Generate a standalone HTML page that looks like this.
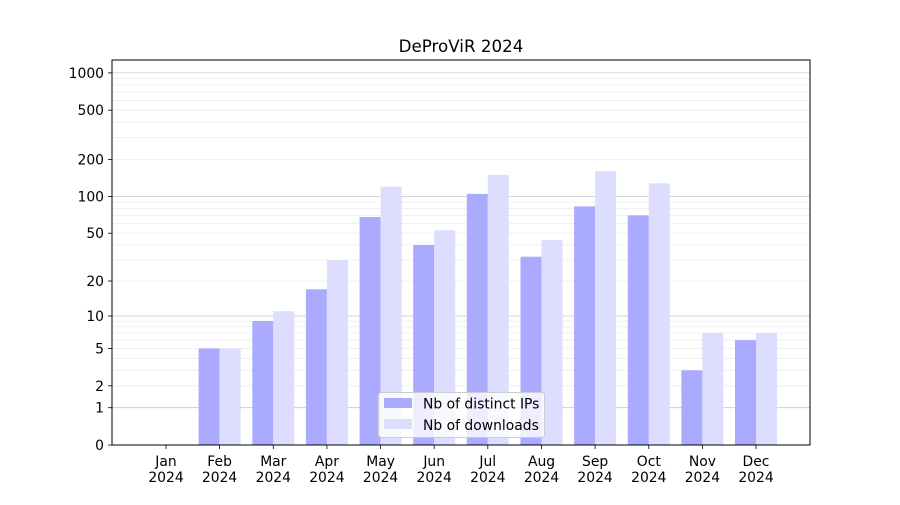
<!DOCTYPE html>
<html><head><meta charset="utf-8"><style>
body{margin:0;background:#fff}
svg text{font-family:"DejaVu Sans","Liberation Sans",sans-serif;font-size:13.9px;fill:#000}
</style></head><body>
<svg width="900" height="500" viewBox="0 0 900 500" xmlns="http://www.w3.org/2000/svg">
<rect width="900" height="500" fill="#fff"/>
<g stroke="#ececec" stroke-width="0.8">
<line x1="112" x2="810" y1="385.8" y2="385.8"/><line x1="112" x2="810" y1="370.3" y2="370.3"/>
<line x1="112" x2="810" y1="358.3" y2="358.3"/><line x1="112" x2="810" y1="348.5" y2="348.5"/>
<line x1="112" x2="810" y1="340.2" y2="340.2"/><line x1="112" x2="810" y1="333.0" y2="333.0"/>
<line x1="112" x2="810" y1="326.7" y2="326.7"/><line x1="112" x2="810" y1="321.0" y2="321.0"/>
<line x1="112" x2="810" y1="281.0" y2="281.0"/><line x1="112" x2="810" y1="260.1" y2="260.1"/>
<line x1="112" x2="810" y1="245.0" y2="245.0"/><line x1="112" x2="810" y1="233.2" y2="233.2"/>
<line x1="112" x2="810" y1="223.6" y2="223.6"/><line x1="112" x2="810" y1="215.4" y2="215.4"/>
<line x1="112" x2="810" y1="208.4" y2="208.4"/><line x1="112" x2="810" y1="202.1" y2="202.1"/>
<line x1="112" x2="810" y1="159.4" y2="159.4"/><line x1="112" x2="810" y1="137.6" y2="137.6"/>
<line x1="112" x2="810" y1="122.2" y2="122.2"/><line x1="112" x2="810" y1="110.2" y2="110.2"/>
<line x1="112" x2="810" y1="100.4" y2="100.4"/><line x1="112" x2="810" y1="92.1" y2="92.1"/>
<line x1="112" x2="810" y1="84.9" y2="84.9"/><line x1="112" x2="810" y1="78.6" y2="78.6"/>
</g>
<g stroke="#c8c8c8" stroke-width="0.8">
<line x1="112" x2="810" y1="407.7" y2="407.7"/><line x1="112" x2="810" y1="316" y2="316"/>
<line x1="112" x2="810" y1="196.5" y2="196.5"/><line x1="112" x2="810" y1="72.9" y2="72.9"/>
</g>
<g fill="#aaaaff">
<rect x="198.6" y="348.5" width="21" height="96.5"/>
<rect x="252.3" y="321.0" width="21" height="124"/>
<rect x="305.9" y="289.3" width="21" height="155.7"/>
<rect x="359.6" y="217.0" width="21" height="228"/>
<rect x="413.2" y="245.0" width="21" height="200"/>
<rect x="466.8" y="193.9" width="21" height="251.1"/>
<rect x="520.5" y="256.7" width="21" height="188.3"/>
<rect x="574.1" y="206.4" width="21" height="238.6"/>
<rect x="627.8" y="215.4" width="21" height="229.6"/>
<rect x="681.4" y="370.3" width="21" height="74.7"/>
<rect x="735.0" y="340.2" width="21" height="104.8"/>
</g>
<g fill="#ddddff">
<rect x="219.6" y="348.5" width="21" height="96.5"/>
<rect x="273.3" y="311.2" width="21" height="133.8"/>
<rect x="326.9" y="260.1" width="21" height="184.9"/>
<rect x="380.6" y="186.7" width="21" height="258.3"/>
<rect x="434.2" y="230.2" width="21" height="214.8"/>
<rect x="487.8" y="174.8" width="21" height="270.2"/>
<rect x="541.5" y="240.0" width="21" height="205"/>
<rect x="595.1" y="171.3" width="21" height="273.7"/>
<rect x="648.8" y="183.3" width="21" height="261.7"/>
<rect x="702.4" y="333.0" width="21" height="112"/>
<rect x="756.0" y="333.0" width="21" height="112"/>
</g>
<rect x="112" y="60" width="698" height="385" fill="none" stroke="#000" stroke-width="1"/>
<g stroke="#000" stroke-width="0.8">
<line x1="108" x2="112" y1="445" y2="445"/><line x1="108" x2="112" y1="407.7" y2="407.7"/>
<line x1="108" x2="112" y1="385.8" y2="385.8"/><line x1="108" x2="112" y1="348.5" y2="348.5"/>
<line x1="108" x2="112" y1="316" y2="316"/><line x1="108" x2="112" y1="281" y2="281"/>
<line x1="108" x2="112" y1="233.2" y2="233.2"/><line x1="108" x2="112" y1="196.5" y2="196.5"/>
<line x1="108" x2="112" y1="159.4" y2="159.4"/><line x1="108" x2="112" y1="110.2" y2="110.2"/>
<line x1="108" x2="112" y1="72.9" y2="72.9"/>
</g>
<g text-anchor="end">
<text x="104" y="450">0</text><text x="104" y="412.7">1</text><text x="104" y="390.8">2</text>
<text x="104" y="353.5">5</text><text x="104" y="321">10</text><text x="104" y="286">20</text>
<text x="104" y="238.2">50</text><text x="104" y="201.5">100</text><text x="104" y="164.4">200</text>
<text x="104" y="115.2">500</text><text x="104" y="77.9">1000</text>
</g>
<g stroke="#000" stroke-width="0.8">
<line x1="166" x2="166" y1="445" y2="449"/><line x1="219.6" x2="219.6" y1="445" y2="449"/>
<line x1="273.3" x2="273.3" y1="445" y2="449"/><line x1="326.9" x2="326.9" y1="445" y2="449"/>
<line x1="380.6" x2="380.6" y1="445" y2="449"/><line x1="434.2" x2="434.2" y1="445" y2="449"/>
<line x1="487.8" x2="487.8" y1="445" y2="449"/><line x1="541.5" x2="541.5" y1="445" y2="449"/>
<line x1="595.1" x2="595.1" y1="445" y2="449"/><line x1="648.8" x2="648.8" y1="445" y2="449"/>
<line x1="702.4" x2="702.4" y1="445" y2="449"/><line x1="756" x2="756" y1="445" y2="449"/>
</g>
<g text-anchor="middle">
<text x="166" y="466">Jan</text><text x="166" y="482">2024</text>
<text x="219.6" y="466">Feb</text><text x="219.6" y="482">2024</text>
<text x="273.3" y="466">Mar</text><text x="273.3" y="482">2024</text>
<text x="326.9" y="466">Apr</text><text x="326.9" y="482">2024</text>
<text x="380.6" y="466">May</text><text x="380.6" y="482">2024</text>
<text x="434.2" y="466">Jun</text><text x="434.2" y="482">2024</text>
<text x="487.8" y="466">Jul</text><text x="487.8" y="482">2024</text>
<text x="541.5" y="466">Aug</text><text x="541.5" y="482">2024</text>
<text x="595.1" y="466">Sep</text><text x="595.1" y="482">2024</text>
<text x="648.8" y="466">Oct</text><text x="648.8" y="482">2024</text>
<text x="702.4" y="466">Nov</text><text x="702.4" y="482">2024</text>
<text x="756" y="466">Dec</text><text x="756" y="482">2024</text>
<text x="461" y="52" style="font-size:16.7px">DeProViR 2024</text>
</g>
<rect x="378.5" y="392.5" width="166" height="45" rx="3" fill="#fff" fill-opacity="0.8" stroke="#ccc"/>
<rect x="384" y="398" width="28" height="10" fill="#aaaaff"/>
<rect x="384" y="419" width="28" height="10" fill="#ddddff"/>
<text x="423" y="408.5">Nb of distinct IPs</text>
<text x="423" y="430">Nb of downloads</text>
</svg>
</body></html>
